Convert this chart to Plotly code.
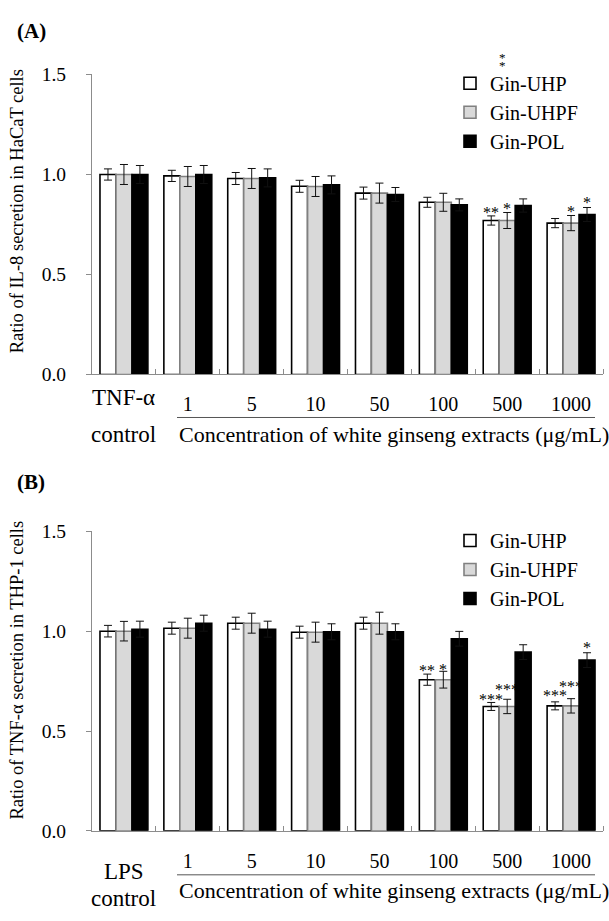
import plotly.graph_objects as go

# ---- data -------------------------------------------------------------
groups = ["control", "1", "5", "10", "50", "100", "500", "1000"]
series = ["Gin-UHP", "Gin-UHPF", "Gin-POL"]

# (A) IL-8 secretion in HaCaT cells
il8_uhp = [1.00, 0.993, 0.98, 0.941, 0.907, 0.861, 0.770, 0.757]
il8_uhpf = [1.00, 0.990, 0.98, 0.940, 0.907, 0.861, 0.770, 0.757]
il8_pol = [1.00, 1.000, 0.983, 0.948, 0.900, 0.848, 0.845, 0.800]
il8_uhp_err = [0.028, 0.028, 0.030, 0.030, 0.030, 0.025, 0.023, 0.023]
il8_uhpf_err = [0.050, 0.050, 0.050, 0.050, 0.050, 0.045, 0.040, 0.038]
il8_pol_err = [0.045, 0.045, 0.045, 0.045, 0.035, 0.030, 0.033, 0.035]

# (B) TNF-alpha secretion in THP-1 cells
tnf_uhp = [1.00, 1.015, 1.04, 0.995, 1.04, 0.757, 0.623, 0.626]
tnf_uhpf = [1.00, 1.015, 1.04, 0.995, 1.04, 0.757, 0.623, 0.626]
tnf_pol = [1.01, 1.040, 1.01, 0.997, 0.997, 0.962, 0.895, 0.855]
tnf_uhp_err = [0.029, 0.030, 0.030, 0.030, 0.030, 0.028, 0.020, 0.020]
tnf_uhpf_err = [0.049, 0.050, 0.050, 0.050, 0.055, 0.042, 0.036, 0.036]
tnf_pol_err = [0.040, 0.040, 0.040, 0.040, 0.040, 0.037, 0.037, 0.037]

# significance marks: (panel, group index, series index, label, y)
stars = [
    ("A", 6, 0, "**", 0.83),
    ("A", 6, 1, "*", 0.85),
    ("A", 7, 1, "*", 0.837),
    ("A", 7, 2, "*", 0.88),
    ("B", 5, 0, "**", 0.823),
    ("B", 5, 1, "*", 0.83),
    ("B", 6, 0, "***", 0.68),
    ("B", 6, 1, "***", 0.726),
    ("B", 7, 0, "***", 0.696),
    ("B", 7, 1, "***", 0.744),
    ("B", 7, 2, "*", 0.94),
]

y_ticks = [0.0, 0.5, 1.0, 1.5]

# ---- styling ----------------------------------------------------------
FONT = "Liberation Serif"
W, H = 609, 921
fills = ["#ffffff", "#d9d9d9", "#000000"]
edges = ["#000000", "#808080", "#000000"]
axis_grey = "#8c8c8c"

x_pos = list(range(len(groups)))
offsets = [-0.25, 0.0, 0.25]


def px_x(p):
    return p / W


def px_y(p):
    return 1 - p / H


fig = go.Figure()

panels = {
    "A": dict(vals=[il8_uhp, il8_uhpf, il8_pol],
              errs=[il8_uhp_err, il8_uhpf_err, il8_pol_err],
              xa="x", ya="y", legend="legend"),
    "B": dict(vals=[tnf_uhp, tnf_uhpf, tnf_pol],
              errs=[tnf_uhp_err, tnf_uhpf_err, tnf_pol_err],
              xa="x2", ya="y2", legend="legend2"),
}

for key, p in panels.items():
    for i, name in enumerate(series):
        fig.add_trace(go.Bar(
            x=x_pos, y=p["vals"][i], name=name,
            xaxis=p["xa"], yaxis=p["ya"], legend=p["legend"],
            marker=dict(color=fills[i], line=dict(color=edges[i], width=1.6)),
            error_y=dict(type="data", array=p["errs"][i], color="#111111",
                         thickness=1, width=4),
        ))

x_dom = [px_x(92), px_x(603)]
dom_a = [px_y(373), px_y(66)]
dom_b = [px_y(840), px_y(533.5)]

xaxis_common = dict(
    range=[-0.5, 7.5], showline=True, linecolor=axis_grey, linewidth=1,
    tickvals=x_pos[1:], ticktext=groups[1:], ticks="", ticklabelstandoff=12,
    tickfont=dict(family=FONT, size=20, color="#000"),
    minor=dict(tickvals=[i + 0.5 for i in range(len(groups))], ticks="inside",
               ticklen=5, tickcolor=axis_grey),
    showgrid=False, zeroline=False, fixedrange=True,
)
yaxis_common = dict(
    range=[0, 1.5], showline=True, linecolor=axis_grey, linewidth=1,
    tickvals=y_ticks, tickformat=".1f", ticks="outside", ticklen=5,
    tickcolor=axis_grey, ticklabelstandoff=16,
    tickfont=dict(family=FONT, size=19.5, color="#000"),
    showgrid=False, zeroline=False, fixedrange=True,
)

legend_common = dict(
    font=dict(family=FONT, size=20, color="#000"), bgcolor="rgba(0,0,0,0)",
    xanchor="left", yanchor="top", tracegroupgap=0, itemclick=False,
)

fig.update_layout(
    width=W, height=H, margin=dict(l=0, r=0, t=0, b=0),
    paper_bgcolor="#fff", plot_bgcolor="#fff",
    barmode="group", bargap=0.25, bargroupgap=0,
    xaxis=dict(domain=x_dom, anchor="y", **xaxis_common),
    yaxis=dict(domain=dom_a, anchor="x", **yaxis_common),
    xaxis2=dict(domain=x_dom, anchor="y2", **xaxis_common),
    yaxis2=dict(domain=dom_b, anchor="x2", **yaxis_common),
    legend=dict(x=px_x(450), y=px_y(55), **legend_common),
    legend2=dict(x=px_x(450), y=px_y(523), **legend_common),
    showlegend=True,
)

annotations = []
shapes = []


def text(x, y, s, size=19, xref="paper", yref="paper", **kw):
    opts = dict(xanchor="center", yanchor="middle")
    opts.update(kw)
    annotations.append(dict(x=x, y=y, xref=xref, yref=yref, text=s,
                            showarrow=False,
                            font=dict(family=FONT, size=size, color="#000"),
                            **opts))


# panel letters
text(px_x(15), px_y(21), "<b>(A)</b>", size=21, xanchor="left")
text(px_x(15), px_y(483), "<b>(B)</b>", size=21, xanchor="left")

# y-axis titles
text(px_x(17), px_y(206), "Ratio of IL-8 secretion in HaCaT cells",
     size=18.5, textangle=-90)
text(px_x(17), px_y(676), "Ratio of TNF-α secretion in THP-1 cells",
     size=18.5, textangle=-90)

# control group labels and concentration captions
text(0, px_y(397), "TNF-α", xref="x", size=23)
text(0, px_y(434), "control", xref="x", size=23)
text(px_x(394), px_y(434), "Concentration of white ginseng extracts (μg/mL)",
     size=22)
text(0, px_y(882), "LPS", xref="x2", size=23)
text(0, px_y(909), "control", xref="x2", size=23)
text(px_x(394), px_y(901), "Concentration of white ginseng extracts (μg/mL)",
     size=22)

for y_line in (417, 885):
    shapes.append(dict(type="line", xref="paper", yref="paper",
                       x0=px_x(177), x1=px_x(595), y0=px_y(y_line),
                       y1=px_y(y_line), line=dict(color="#555", width=1)))

# significance asterisks (glyph centred on the given value)
for panel, g, s, label, yv in stars:
    p = panels[panel]
    text(g + offsets[s], yv, label, size=16, xref=p["xa"], yref=p["ya"],
         yshift=-4)

# stacked asterisks above the first legend entry
text(px_x(502), px_y(46), "*", size=13, yshift=-3)
text(px_x(502), px_y(54), "*", size=13, yshift=-3)

fig.update_layout(annotations=annotations, shapes=shapes)

fig.write_html("out.html")
